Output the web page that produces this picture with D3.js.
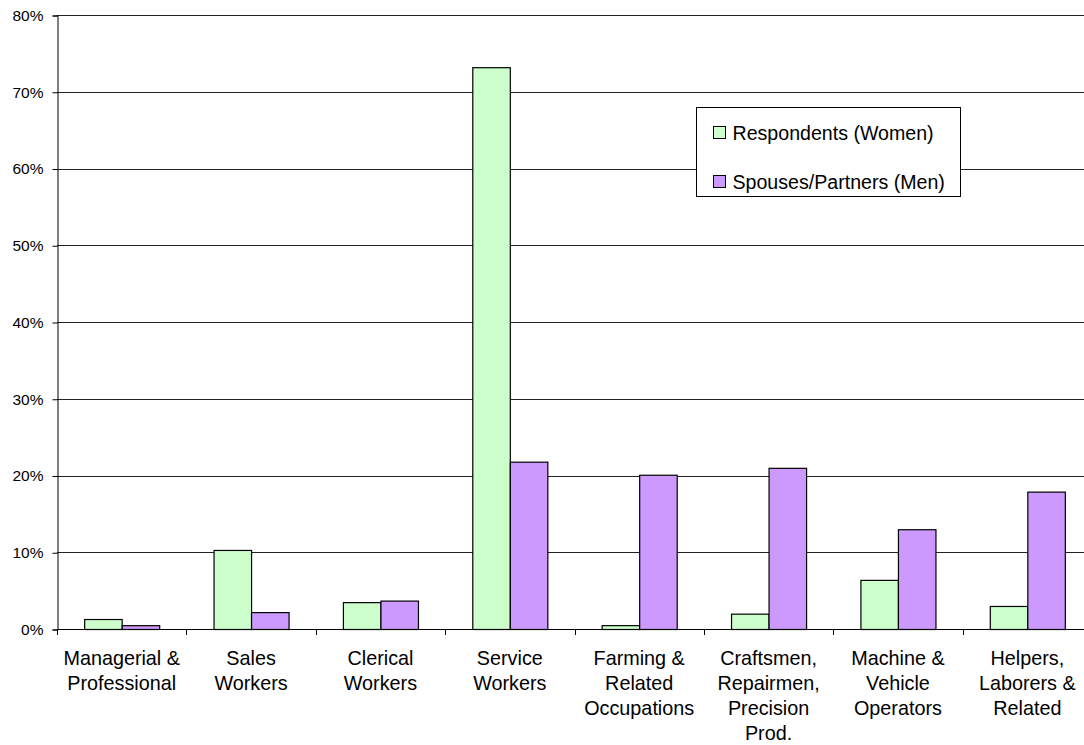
<!DOCTYPE html>
<html>
<head>
<meta charset="utf-8">
<script src="https://cdn.jsdelivr.net/npm/d3@7"></script>
<style>
  html, body { margin: 0; padding: 0; background: #fff; }
  svg { display: block; font-family: "Liberation Sans", Arial, sans-serif; }
</style>
</head>
<body>
<svg id="chart" width="1084" height="745"></svg>
<script>
// Occupation categories (multi-line labels)
const categories = [
  ["Managerial &", "Professional"],
  ["Sales", "Workers"],
  ["Clerical", "Workers"],
  ["Service", "Workers"],
  ["Farming &", "Related", "Occupations"],
  ["Craftsmen,", "Repairmen,", "Precision", "Prod."],
  ["Machine &", "Vehicle", "Operators"],
  ["Helpers,", "Laborers &", "Related"]
];
const seriesNames = ["Respondents (Women)", "Spouses/Partners (Men)"];
const women = [1.3, 10.3, 3.5, 73.2, 0.5, 2.0, 6.4, 3.0];
const men   = [0.5, 2.2, 3.7, 21.8, 20.1, 21.0, 13.0, 17.9];
const yTicks = [0, 10, 20, 30, 40, 50, 60, 70, 80];
const colors = ["#CCFFCC", "#CC99FF"];

const svg = d3.select("#chart");
const plotLeft = 57, plotRight = 1092, plotTop = 15, plotBottom = 629;

const keys = categories.map(c => c.join(" "));
const x0 = d3.scaleBand().domain(keys).range([plotLeft, plotRight])
  .paddingInner(0.42).paddingOuter(0.21);
const x1 = d3.scaleBand().domain(seriesNames).range([0, x0.bandwidth()]);
const y = d3.scaleLinear().domain([0, 80]).range([plotBottom, plotTop]);

// horizontal gridlines
svg.append("g").selectAll("line").data(yTicks.filter(t => t > 0)).join("line")
  .attr("x1", plotLeft).attr("x2", plotRight)
  .attr("y1", d => Math.round(y(d)) + 0.5).attr("y2", d => Math.round(y(d)) + 0.5)
  .attr("stroke", "#222").attr("stroke-width", 1);

// y axis
const yAxis = d3.axisLeft(y).tickValues(yTicks).tickFormat(d => d + "%")
  .tickSize(5).tickPadding(9);
const gy = svg.append("g").attr("transform", `translate(${plotLeft + 0.5},0.5)`).call(yAxis);
gy.select(".domain").attr("stroke", "#000");
gy.selectAll(".tick line").attr("stroke", "#000");
gy.selectAll(".tick text").attr("font-size", 15.5).attr("fill", "#000")
  .attr("font-family", "Liberation Sans, Arial, sans-serif");

// bars
const rows = keys.map((k, i) => ({ key: k, values: [women[i], men[i]] }));
const groups = svg.append("g").selectAll("g").data(rows).join("g")
  .attr("transform", d => `translate(${x0(d.key)},0)`);
groups.selectAll("rect").data(d => d.values.map((v, j) => ({ name: seriesNames[j], v, j })))
  .join("rect")
  .attr("x", d => x1(d.name) + 0.5)
  .attr("y", d => y(d.v) + 0.5)
  .attr("width", x1.bandwidth())
  .attr("height", d => y(0) - y(d.v))
  .attr("fill", d => colors[d.j])
  .attr("stroke", "#000").attr("stroke-width", 1.2);

// x axis baseline and boundary ticks
const step = x0.step();
const bounds = d3.range(categories.length + 1).map(i => plotLeft + i * step);
svg.append("line").attr("x1", plotLeft).attr("x2", plotRight)
  .attr("y1", plotBottom + 0.5).attr("y2", plotBottom + 0.5).attr("stroke", "#000");
svg.append("g").selectAll("line").data(bounds).join("line")
  .attr("x1", d => Math.round(d) + 0.5).attr("x2", d => Math.round(d) + 0.5)
  .attr("y1", plotBottom).attr("y2", plotBottom + 6).attr("stroke", "#000");

// category labels
const labels = svg.append("g").selectAll("text").data(categories).join("text")
  .attr("text-anchor", "middle").attr("font-size", 19.8).attr("fill", "#000")
  .attr("transform", (d, i) => `translate(${x0(keys[i]) + x0.bandwidth() / 2},665)`);
labels.selectAll("tspan").data(d => d).join("tspan")
  .attr("x", 0).attr("y", (d, i) => i * 25).text(d => d);

// legend
const lg = svg.append("g").attr("transform", "translate(696.5,107.5)");
lg.append("rect").attr("width", 264).attr("height", 89)
  .attr("fill", "#fff").attr("stroke", "#000");
seriesNames.forEach((name, i) => {
  const cy = 25 + i * 49;
  lg.append("rect").attr("x", 17).attr("y", cy - 6).attr("width", 12).attr("height", 12)
    .attr("fill", colors[i]).attr("stroke", "#000");
  lg.append("text").attr("x", 36).attr("y", cy + 7).attr("font-size", 19.6)
    .attr("fill", "#000").text(name);
});
</script>
</body>
</html>
